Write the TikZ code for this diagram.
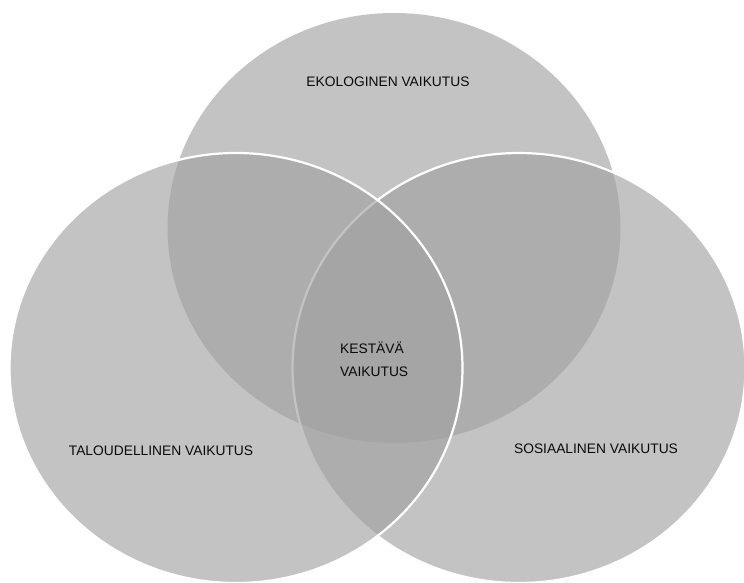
\documentclass[tikz,border=0pt]{standalone}
\usepackage{fontspec}
\setmainfont{Liberation Sans}
\usetikzlibrary{shapes.geometric}
\definecolor{vennfill}{RGB}{160,160,160}
\definecolor{txt}{RGB}{10,10,10}
\tikzset{
  venn/.style={ellipse, inner sep=0pt, minimum width=453pt, minimum height=430pt,
    fill=vennfill, fill opacity=0.63, draw opacity=1},
  rim/.style={draw=white, line width=2.2pt},
  lbl/.style={text=txt, font=\fontsize{13.8}{16}\selectfont, inner sep=0pt},
}
\begin{document}
\begin{tikzpicture}[x=1pt,y=-1pt]
  \useasboundingbox (0,0) rectangle (744,583);
  \node[venn] (eko) at (394,228) {};
  \node[venn, rim] (sos) at (519,368) {};
  \node[venn, rim] (tal) at (236,368) {};
  \node[lbl] (ekot) at (388,82) {EKOLOGINEN VAIKUTUS};
  \node[lbl] (talt) at (161,451) {TALOUDELLINEN VAIKUTUS};
  \node[lbl] (sost) at (596,449) {SOSIAALINEN VAIKUTUS};
  \node[lbl, anchor=west, align=left] (kes) at (340,359.5) {KESTÄVÄ\\[6.5pt]VAIKUTUS};
\end{tikzpicture}
\end{document}
